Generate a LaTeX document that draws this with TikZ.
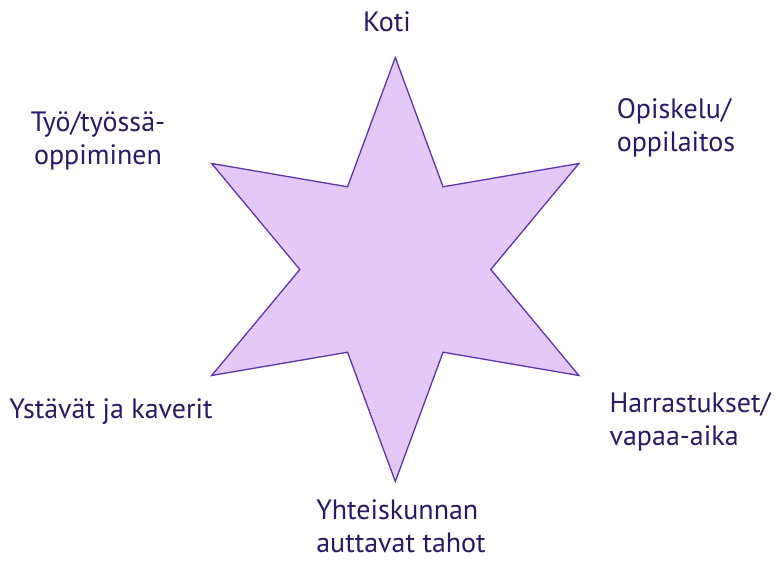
\documentclass[tikz,border=0pt]{standalone}
\usepackage{fontspec}
\setmainfont{PT Sans}
\usepackage{tikz}
\definecolor{starfill}{HTML}{E4C9F8}
\definecolor{starline}{HTML}{5E35B1}
\definecolor{labeltext}{HTML}{2A1868}

\tikzset{
  star/.style={fill=starfill, draw=starline, line width=1.3pt, line join=miter},
  area/.style={text=labeltext, inner sep=0pt, font=\fontsize{28}{33}\selectfont}
}

\begin{document}
\begin{tikzpicture}[x=1pt, y=-1pt]
  \useasboundingbox (0,0) rectangle (775,561);
  % six-pointed star in the middle
  \draw[star, shift={(395.3,269.5)}] (90:212)
    \foreach \a in {90,150,210,270,330}{ -- (\a+30:95.5) -- (\a+60:212) }
    -- (60:95.5) -- cycle;

  % areas round the star
  \node[area] (koti) at (387,22) {Koti};
  \node[area, align=center] (tyo) at (98,141) {Työ/työssä-\\oppiminen};
  \node[area, align=left] (opiskelu) at (676,128) {Opiskelu/\\oppilaitos};
  \node[area] (ystavat) at (111,412) {Ystävät ja kaverit};
  \node[area, align=left] (harrastukset) at (690,422) {Harrastukset/\\vapaa-aika};
  \node[area, align=left] (yhteiskunta) at (401,526) {Yhteiskunnan\\auttavat tahot};
\end{tikzpicture}
\end{document}
